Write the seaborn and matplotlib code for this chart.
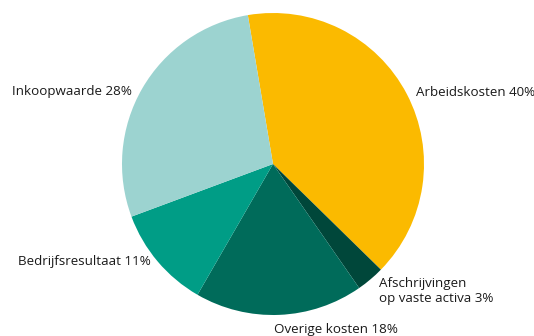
import matplotlib
matplotlib.use("Agg")
import matplotlib.pyplot as plt
import seaborn as sns

# Data
labels = ["Arbeidskosten 40%", "Afschrijvingen\nop vaste activa 3%", "Overige kosten 18%",
          "Bedrijfsresultaat 11%", "Inkoopwaarde 28%"]
shares = [40, 3, 18, 11, 28]
colors = ["#FBBA00", "#00473A", "#006B5A", "#009D86", "#9CD3D0"]

# label anchor points (pixel coords, left edge / center y)
label_pos = [(416, 92), (379, 291), (274, 329), (18, 262), (12, 92)]

sns.set_theme(style="white")
plt.rcParams['font.family'] = ['Open Sans', 'DejaVu Sans']

W, H = 534, 336
fig = plt.figure(figsize=(W / 100, H / 100), dpi=100)
ax = fig.add_axes([0, 0, 1, 1])

ax.pie(shares, colors=colors, startangle=99.6, counterclock=False,
       center=(273, H - 164), radius=151, frame=True,
       wedgeprops=dict(linewidth=0))
ax.set_xlim(0, W)
ax.set_ylim(0, H)
ax.set_aspect('equal')
ax.axis('off')

for lab, (x, y) in zip(labels, label_pos):
    ax.text(x, H - y, lab, ha='left', va='center', fontsize=9.6,
            color='#1a1a1a', linespacing=1.2)

fig.savefig("out.png", dpi=100, facecolor='white')
